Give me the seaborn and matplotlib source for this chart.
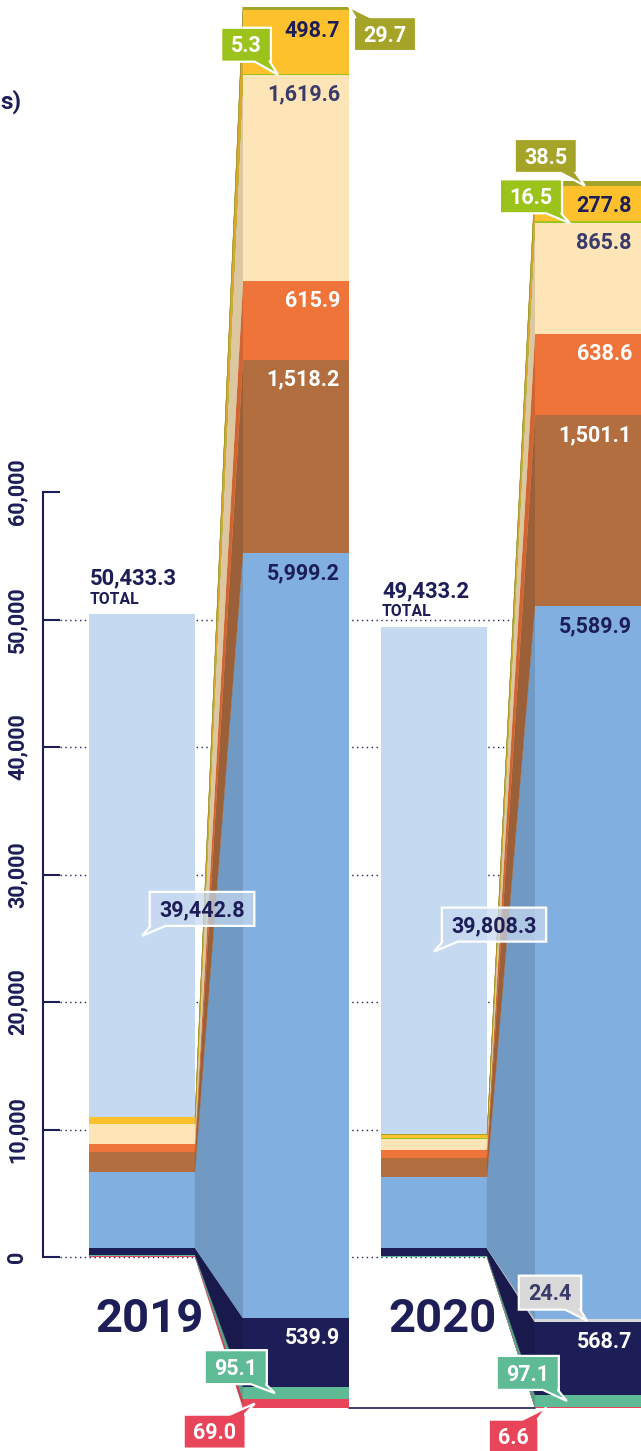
import numpy as np
import pandas as pd
import matplotlib
matplotlib.use('Agg')
import matplotlib.pyplot as plt
import matplotlib.colors as mcolors
from matplotlib import font_manager
from matplotlib.patches import Polygon
from matplotlib.transforms import IdentityTransform
import seaborn as sns

# data, listed bottom -> top of each stack
years = ['2019', '2020']
segments = ['red', 'green', 'navy', 'gray', 'blue', 'brown', 'orange',
            'cream', 'lime', 'yellow', 'olive', 'lightblue']
values_2019 = [69.0, 95.1, 539.9, 0.0, 5999.2, 1518.2, 615.9, 1619.6, 5.3, 498.7, 29.7, 39442.8]
values_2020 = [6.6, 97.1, 568.7, 24.4, 5589.9, 1501.1, 638.6, 865.8, 16.5, 277.8, 38.5, 39808.3]
totals = [50433.3, 49433.2]
yticks = [0, 10000, 20000, 30000, 40000, 50000, 60000]

seg_colors = ['#e8455a', '#5fba96', '#1d1d57', '#d9d9d9', '#81b0e0', '#b26e3f',
              '#ef743a', '#fde5b8', '#9cc31b', '#fdc12e', '#a5a429', '#c5d9f0']
NAVY = '#1d1d57'
SOFT_NAVY = '#3a3a6b'

df = pd.DataFrame({'2019': values_2019, '2020': values_2020}, index=segments)
cum = df.cumsum()

sns.set_theme(style='white')
plt.rcParams['font.family'] = ['Roboto', 'DejaVu Sans']

# layout (pixels of the 641x1451 canvas)
W, H = 641, 1451
AXIS_X = 43
BAR_W = 106
main_left = [89, 381]
exp_left = [243, 535]
main_x = [l + BAR_W / 2 for l in main_left]
exp_x = [l + BAR_W / 2 for l in exp_left]
gap = main_x[1] - main_x[0]

fig = plt.figure(figsize=(W / 100, H / 100), dpi=100)
ax = fig.add_axes([AXIS_X / W, 0, 1 - AXIS_X / W, 1])
ax2 = ax.twinx()

# main stacks: cumulative bars drawn top segment first
for i in reversed(range(len(segments))):
    sns.barplot(x=main_x, y=cum.iloc[i].values, native_scale=True, orient='x',
                width=BAR_W / gap, color=seg_colors[i], saturation=1,
                errorbar=None, linewidth=0, ax=ax, zorder=3)

# zoomed stacks (everything except the big light blue block)
for i in reversed(range(len(segments) - 1)):
    sns.barplot(x=exp_x, y=cum.iloc[i].values, native_scale=True, orient='x',
                width=BAR_W / gap, color=seg_colors[i], saturation=1,
                errorbar=None, linewidth=0, ax=ax2, zorder=3)

# scales: main 12.75 px per 1000, zoom x10
ZERO_PX, K = 1257, 0.01275
ZERO2_PX, K2 = 1408, 0.1275
ax.set_ylim(-(H - ZERO_PX) / K, ZERO_PX / K)
ax2.set_ylim(-(H - ZERO2_PX) / K2, ZERO2_PX / K2)
ax.set_xlim(AXIS_X, W)

for a in (ax, ax2):
    a.set_xlabel('')
    a.set_ylabel('')
    a.grid(False)
    for s in a.spines.values():
        s.set_visible(False)
ax2.tick_params(right=False, labelright=False)
ax.tick_params(bottom=False, labelbottom=False)

# y axis
ax.spines['left'].set_visible(True)
ax.spines['left'].set_bounds(yticks[0], yticks[-1])
ax.spines['left'].set_color(NAVY)
ax.spines['left'].set_linewidth(1.5)
ax.set_yticks(yticks)
ax.set_yticklabels([f'{t:,}' for t in yticks], rotation=90, va='center',
                   fontsize=15.5, fontweight='bold', color=NAVY)
ax.tick_params(axis='y', left=True, direction='in', length=12.2, width=1.5,
               color=NAVY, pad=10.5)
ax.hlines(yticks[:-1], 60, W, colors=NAVY, linestyles=(0, (1, 2.5)), lw=1, zorder=1)


def to_ax2(v):
    disp = ax.transData.transform((0, v))
    return ax2.transData.inverted().transform(disp)[1]


def darker(c, f=0.87):
    r, g, b = mcolors.to_rgb(c)
    return (r * f, g * f, b * f)


# connecting bands
for j, yr in enumerate(years):
    prev = 0.0
    for i, seg in enumerate(segments[:-1]):
        v = df.loc[seg, yr]
        top = prev + v
        if v > 0:
            xr = main_left[j] + BAR_W
            xl = exp_left[j]
            pts = [(xr, to_ax2(prev)), (xr, to_ax2(top)), (xl, top), (xl, prev)]
            ax2.add_patch(Polygon(pts, closed=True, fc=darker(seg_colors[i]),
                                  ec=darker(seg_colors[i]), lw=0.25, zorder=2))
        prev = top

# baseline between zoomed stacks
ax2.plot([exp_left[0] + BAR_W, exp_left[1]], [0, 0], color=NAVY, lw=1.2, zorder=2)

LBL = dict(fontsize=15.5, fontweight='bold')

# labels inside zoomed stacks
inside = {'yellow': NAVY, 'cream': SOFT_NAVY, 'orange': 'white',
          'brown': 'white', 'blue': NAVY, 'navy': 'white'}
for j, yr in enumerate(years):
    for seg, tc in inside.items():
        ax2.annotate(f'{df.loc[seg, yr]:,.1f}', xy=(exp_left[j] + BAR_W, cum.loc[seg, yr]),
                     xytext=(-6.5, -6.5), textcoords='offset points',
                     ha='right', va='top', color=tc, zorder=6, **LBL)

renderer = fig.canvas.get_renderer()
PX = fig.dpi / 72
CAP = 0.711 * LBL['fontsize'] * PX
BOX_H, PAD_X, TAIL_W = 34, 9.5, 15


def callout(text, xy, off, fc, tc, side, trans):
    # speech bubble: box centred at tip + offset, tail from one corner to the tip
    tx, ty = trans.transform(xy)
    cx, cy = tx + off[0] * PX, ty + off[1] * PX
    t = ax2.text(cx, cy - CAP / 2, text, transform=IdentityTransform(), ha='center',
                 va='baseline', color=tc, zorder=11, **LBL)
    bb = t.get_window_extent(renderer)
    x0, x1 = bb.x0 - PAD_X, bb.x1 + PAD_X
    y0, y1 = cy - BOX_H / 2, cy + BOX_H / 2
    vert, horiz = side
    if horiz == 'right':
        b0, b1 = x1 - TAIL_W - 1, x1 - 1
    else:
        b0, b1 = x0 + 1, x0 + TAIL_W + 1
    if vert == 'bottom':
        pts = [(x0, y1), (x1, y1), (x1, y0), (b1, y0), (tx, ty), (b0, y0), (x0, y0)]
    else:
        pts = [(x0, y0), (x0, y1), (b0, y1), (tx, ty), (b1, y1), (x1, y1), (x1, y0)]
    p = Polygon(pts, closed=True, fc=fc, ec='white', lw=1.6, joinstyle='miter',
                transform=IdentityTransform(), zorder=10)
    ax2.add_patch(p)
    p.set_clip_on(False)


# small segments: (segment, x fraction of bar, y fraction of segment, offset pt, tail side)
callouts = {
    '2019': [('red', 0.11, 0.5, (-28.8, -20.2), ('top', 'right')),
             ('green', 0.30, 0.5, (-28.1, 18.7), ('bottom', 'right')),
             ('lime', 0.33, 0.0, (-23.0, 21.6), ('bottom', 'right')),
             ('olive', 1.0, 1.0, (25.9, -19.7), ('top', 'left'))],
    '2020': [('red', 0.11, 0.5, (-23.8, -20.9), ('top', 'right')),
             ('green', 0.30, 0.5, (-28.1, 20.2), ('bottom', 'right')),
             ('gray', 0.49, 0.5, (-26.6, 20.2), ('bottom', 'right')),
             ('lime', 0.33, 0.0, (-28.1, 19.4), ('bottom', 'right')),
             ('olive', 0.47, 0.0, (-28.1, 21.4), ('bottom', 'right'))],
}
for j, yr in enumerate(years):
    for seg, fx, fy, off, side in callouts[yr]:
        v = df.loc[seg, yr]
        y = cum.loc[seg, yr] - v + fy * v
        i = segments.index(seg)
        tc = SOFT_NAVY if seg == 'gray' else 'white'
        callout(f'{v:,.1f}', (exp_left[j] + fx * BAR_W, y), off, seg_colors[i], tc, side,
                ax2.transData)

    # big light blue block of the main stack
    v = df.loc['lightblue', yr]
    y = cum.loc['lightblue', yr] - v + 0.36 * v
    callout(f'{v:,.1f}', (main_x[j], y), (43.2, 19.4), (0.78, 0.85, 0.94, 0.72), NAVY,
            ('bottom', 'left'), ax.transData)

    # totals
    ax2.annotate('TOTAL', xy=(main_left[j] + 1, totals[j]), xycoords=ax.transData,
                 xytext=(0, 7.5), textcoords='offset points', ha='left', va='baseline',
                 fontsize=11.3, fontweight='bold', color=NAVY, zorder=6)
    ax2.annotate(f'{totals[j]:,.1f}', xy=(main_left[j] + 1, totals[j]), xycoords=ax.transData,
                 xytext=(0, 21.5), textcoords='offset points', ha='left', va='baseline',
                 fontsize=15.8, fontweight='bold', color=NAVY, zorder=6)

# year labels
installed = {f.name for f in font_manager.fontManager.ttflist}
if 'Liberation Sans Narrow' in installed:
    year_font, year_size = 'Liberation Sans Narrow', 39
else:
    year_font, year_size = 'Roboto', 34
for j, yr in enumerate(years):
    ax2.annotate(yr, xy=(main_x[j], 0), xycoords=ax.transData, xytext=(5.8, -44.5),
                 textcoords='offset points', ha='center', va='center',
                 family=year_font, fontsize=year_size, fontweight='bold', color=NAVY)

fig.text(0.0, 1 - 102 / H, 's)', ha='left', va='center', fontsize=17.5,
         fontweight='bold', color=NAVY)

fig.savefig('out.png', dpi=100)
